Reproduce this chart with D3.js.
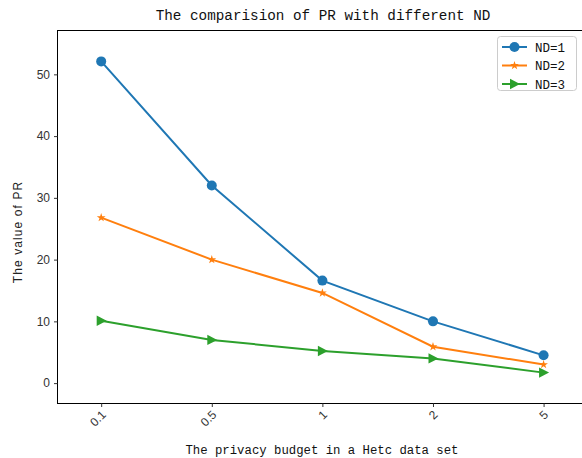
<!DOCTYPE html>
<html><head><meta charset="utf-8">
<script src="https://cdn.jsdelivr.net/npm/d3@7"></script>
<style>body{margin:0;background:#fff}</style>
</head><body>
<script>
const categories = ["0.1","0.5","1","2","5"];
const nd1 = [52.1, 32.0, 16.6, 10.0, 4.5];
const nd2 = [26.8, 20.0, 14.6, 5.9, 3.0];
const nd3 = [10.1, 7.0, 5.2, 4.0, 1.7];
const seriesNames = ["ND=1","ND=2","ND=3"];
const yTicks = [0,10,20,30,40,50];
const colors = ["#1f77b4","#ff7f0e","#2ca02c"];
const markers = ["circle","star","triangle"];

(function(){
const W=582,H=458;
const svg=d3.select("body").append("svg").attr("width",W).attr("height",H);
const mLeft=57.5, mTop=30.5, mBottom=403.5;
const x=d3.scaleLinear().domain([-0.395,4.4]).range([mLeft, mLeft+4.795*110.6]);
const y=d3.scaleLinear().domain([-3.3,57.1]).range([mBottom, mTop]);

svg.append("rect").attr("x",mLeft).attr("y",mTop).attr("width",x(4.4)-mLeft).attr("height",mBottom-mTop)
  .attr("fill","none").attr("stroke","#000").attr("stroke-width",1);

const ya=svg.append("g").attr("transform",`translate(${mLeft},0)`)
  .call(d3.axisLeft(y).tickValues(yTicks).tickSize(3.5).tickPadding(4));
ya.select(".domain").remove();
ya.selectAll("text").attr("font-family","Liberation Sans, Arial, sans-serif").attr("font-size",12).attr("fill","#333");
ya.selectAll("line").attr("stroke","#333");

const xa=svg.append("g").attr("transform",`translate(0,${mBottom})`)
  .call(d3.axisBottom(x).tickValues(d3.range(categories.length)).tickFormat(i=>categories[i]).tickSize(3.5));
xa.select(".domain").remove();
xa.selectAll("line").attr("stroke","#333");
xa.selectAll("text").attr("font-family","Liberation Sans, Arial, sans-serif").attr("font-size",12).attr("fill","#333")
  .attr("text-anchor","end").attr("dy",null).attr("y",0)
  .attr("transform","translate(5,12) rotate(-45)");

svg.append("text").attr("x",323).attr("y",20).attr("text-anchor","middle")
  .attr("font-family","Liberation Mono, monospace").attr("font-size",14.3).attr("fill","#111")
  .text("The comparision of PR with different ND");
svg.append("text").attr("x",322).attr("y",454).attr("text-anchor","middle")
  .attr("font-family","Liberation Mono, monospace").attr("font-size",12.3).attr("fill","#111")
  .text("The privacy budget in a Hetc data set");
svg.append("text").attr("transform",`translate(22,232) rotate(-90)`).attr("text-anchor","middle")
  .attr("font-family","Liberation Sans, Arial, sans-serif").attr("font-size",12).attr("letter-spacing",1.1).attr("fill","#222")
  .text("The value of PR");

const data=[nd1,nd2,nd3];
function drawMarker(g,type,cx,cy,color){
  if(type==="circle") g.append("circle").attr("cx",cx).attr("cy",cy).attr("r",5).attr("fill",color);
  else if(type==="star") g.append("path").attr("d",d3.symbol(d3.symbolStar,24)()).attr("transform",`translate(${cx},${cy})`).attr("fill",color);
  else g.append("path").attr("d",`M-4.5,-5.2 L5.5,0 L-4.5,5.2 Z`).attr("transform",`translate(${cx},${cy})`).attr("fill",color);
}
const line=d3.line().x((d,i)=>x(i)).y(d=>y(d));
data.forEach((vals,k)=>{
  const g=svg.append("g");
  g.append("path").datum(vals).attr("d",line).attr("fill","none").attr("stroke",colors[k]).attr("stroke-width",2);
  vals.forEach((v,i)=>drawMarker(g,markers[k],x(i),y(v),colors[k]));
});

const lg=svg.append("g");
lg.append("rect").attr("x",497.5).attr("y",36.5).attr("width",79).attr("height",54).attr("rx",3)
  .attr("fill","#fff").attr("fill-opacity",0.8).attr("stroke","#ccc");
seriesNames.forEach((n,k)=>{
  const yy=47+k*18.5;
  lg.append("line").attr("x1",502).attr("x2",527).attr("y1",yy).attr("y2",yy).attr("stroke",colors[k]).attr("stroke-width",2);
  drawMarker(lg,markers[k],514.5,yy,colors[k]);
  lg.append("text").attr("x",535).attr("y",yy+4.5).attr("font-family","Liberation Mono, monospace").attr("font-size",12.5).attr("fill","#111").text(n);
});
})();
</script>
</body></html>
